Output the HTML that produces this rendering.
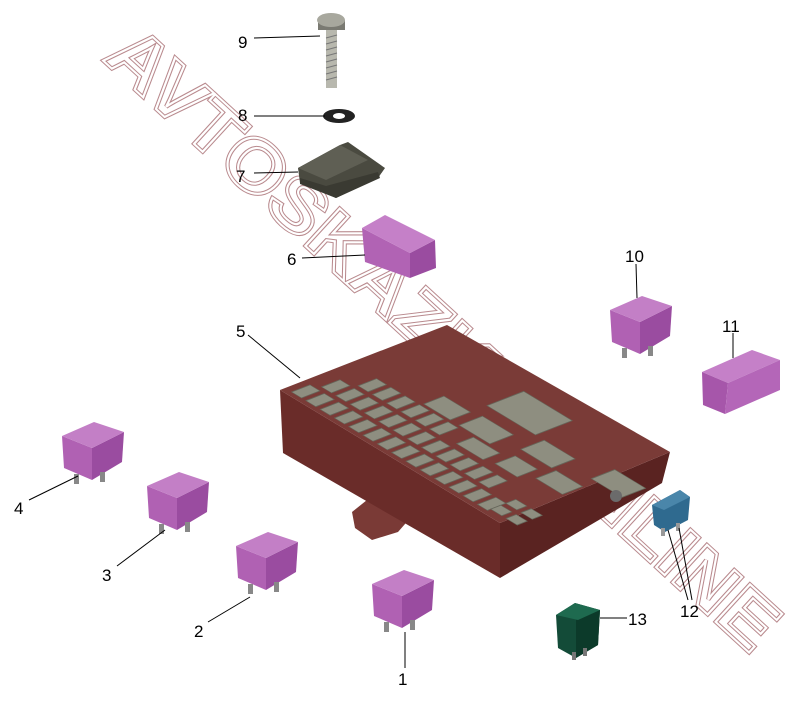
<!DOCTYPE html>
<html><head><meta charset="utf-8"><style>
html,body{margin:0;padding:0;background:#fff;}
svg{display:block;}
text.n{font-family:"Liberation Sans",sans-serif;font-size:17px;fill:#000;}
</style></head><body>
<svg width="797" height="702" viewBox="0 0 797 702" xmlns="http://www.w3.org/2000/svg">
<defs>
<g id="relay">
  <polygon points="2,46 0,14 30,26 30,58" fill="#b061b3"/>
  <polygon points="30,26 62,10 60,40 30,58" fill="#9a4ca0"/>
  <polygon points="0,14 32,0 62,10 30,26" fill="#c37fc6"/>
  <rect x="12" y="52" width="5" height="10" fill="#888"/>
  <rect x="38" y="50" width="5" height="10" fill="#888"/>
</g>
</defs>

<!-- watermark -->
<text x="115" y="45" transform="rotate(42.5 115 45)" dominant-baseline="middle" textLength="881" lengthAdjust="spacingAndGlyphs" font-family="Liberation Sans, sans-serif" font-weight="bold" font-size="74" fill="none" stroke="#b98a8e" stroke-width="4">AVTOSKAZKA.ONLINE</text>
<text x="115" y="45" transform="rotate(42.5 115 45)" dominant-baseline="middle" textLength="881" lengthAdjust="spacingAndGlyphs" font-family="Liberation Sans, sans-serif" font-weight="bold" font-size="74" fill="none" stroke="#fff" stroke-width="2">AVTOSKAZKA.ONLINE</text>

<!-- fuse box -->
<polygon points="352,512 372,496 400,505 412,516 398,532 372,540 355,528" fill="#7a3a36"/>
<polygon points="280,390 500,523 500,578 283,453" fill="#6a2c29"/>
<polygon points="500,523 670,452 662,483 500,578" fill="#5a2321"/>
<polygon points="280,390 447,325 670,452 500,523" fill="#7a3b37"/>
<g transform="matrix(2.2,1.33,1.67,-0.65,280,390)">
  <g fill="#8e8e80" stroke="#66665a" stroke-width="0.4">
    <rect x="3" y="3" width="4.5" height="11"/><rect x="9.5" y="3" width="4.5" height="11"/><rect x="16" y="3" width="4.5" height="11"/><rect x="22.5" y="3" width="4.5" height="11"/><rect x="29" y="3" width="4.5" height="11"/><rect x="35.5" y="3" width="4.5" height="11"/><rect x="42" y="3" width="4.5" height="11"/><rect x="48.5" y="3" width="4.5" height="11"/><rect x="55" y="3" width="4.5" height="11"/><rect x="61.5" y="3" width="4.5" height="11"/><rect x="68" y="3" width="4.5" height="11"/><rect x="74.5" y="3" width="4.5" height="11"/><rect x="81" y="3" width="4.5" height="11"/><rect x="87.5" y="3" width="4.5" height="11"/>
    <rect x="6" y="17" width="4.5" height="11"/><rect x="12.5" y="17" width="4.5" height="11"/><rect x="19" y="17" width="4.5" height="11"/><rect x="25.5" y="17" width="4.5" height="11"/><rect x="32" y="17" width="4.5" height="11"/><rect x="38.5" y="17" width="4.5" height="11"/><rect x="45" y="17" width="4.5" height="11"/><rect x="51.5" y="17" width="4.5" height="11"/><rect x="58" y="17" width="4.5" height="11"/><rect x="64.5" y="17" width="4.5" height="11"/><rect x="71" y="17" width="4.5" height="11"/><rect x="77.5" y="17" width="4.5" height="11"/>
    <rect x="12" y="31" width="4.5" height="11"/><rect x="18.5" y="31" width="4.5" height="11"/><rect x="25" y="31" width="4.5" height="11"/><rect x="31.5" y="31" width="4.5" height="11"/><rect x="38" y="31" width="4.5" height="11"/><rect x="44.5" y="31" width="4.5" height="11"/>
    <rect x="32" y="44" width="12" height="12"/><rect x="48" y="44" width="14" height="14"/>
    <rect x="56" y="32" width="12" height="10"/><rect x="72" y="34" width="10" height="12"/>
    <rect x="92" y="5" width="5" height="6"/><rect x="92" y="14" width="5" height="6"/><rect x="99" y="5" width="5" height="6"/><rect x="99" y="14" width="5" height="6"/>
    <rect x="44" y="66" width="22" height="22"/><rect x="70" y="52" width="14" height="14"/><rect x="86" y="40" width="12" height="12"/><rect x="96" y="60" width="14" height="14"/>
  </g>
</g>
<circle cx="616" cy="496" r="6" fill="#6b6b6b"/>

<!-- relays -->
<use href="#relay" x="62" y="422"/>
<use href="#relay" x="147" y="472"/>
<use href="#relay" x="236" y="532"/>
<use href="#relay" x="372" y="570"/>
<use href="#relay" x="610" y="296"/>

<!-- 6 flat box -->
<polygon points="362,228 410,253 410,278 365,262" fill="#b163b4"/>
<polygon points="410,253 435,240 436,268 410,278" fill="#9a4ca0"/>
<polygon points="362,228 385,215 435,240 410,253" fill="#c580c8"/>
<!-- 11 flat box -->
<polygon points="702,372 752,350 780,360 728,383" fill="#c580c8"/>
<polygon points="702,372 728,383 725,414 703,405" fill="#a656aa"/>
<polygon points="728,383 780,360 780,390 725,414" fill="#b466b8"/>

<!-- 13 green relay -->
<polygon points="556,615 575,603 600,610 598,645 576,658 558,648" fill="#134b38"/>
<polygon points="576,620 600,610 598,645 576,658" fill="#0c3a2a"/>
<polygon points="556,615 575,603 600,610 578,620" fill="#1e6a4f"/>
<rect x="572" y="652" width="4" height="8" fill="#777"/><rect x="583" y="648" width="4" height="8" fill="#777"/>

<!-- 12 blue fuse -->
<polygon points="652,505 680,490 690,497 688,520 665,532 654,525" fill="#2f6a8f"/>
<polygon points="652,505 680,490 690,497 664,510" fill="#4a86aa"/>
<rect x="661" y="528" width="4" height="8" fill="#999"/><rect x="676" y="523" width="4" height="8" fill="#999"/>

<!-- screw 9 -->
<rect x="318" y="20" width="27" height="10" fill="#7a7a72"/>
<ellipse cx="331" cy="20" rx="14" ry="7" fill="#a8a89e"/>
<rect x="326" y="30" width="11" height="58" fill="#b8b8ae"/>
<g stroke="#777" stroke-width="1"><line x1="326" y1="38" x2="337" y2="35"/><line x1="326" y1="44" x2="337" y2="41"/><line x1="326" y1="50" x2="337" y2="47"/><line x1="326" y1="56" x2="337" y2="53"/><line x1="326" y1="62" x2="337" y2="59"/><line x1="326" y1="68" x2="337" y2="65"/><line x1="326" y1="74" x2="337" y2="71"/><line x1="326" y1="80" x2="337" y2="77"/></g>
<!-- washer 8 -->
<ellipse cx="339" cy="116" rx="16" ry="7" fill="#222"/>
<ellipse cx="339" cy="116" rx="6" ry="3" fill="#fff"/>
<!-- clip 7 -->
<polygon points="298,168 340,145 348,142 385,168 378,178 336,198 300,183" fill="#4a4a40"/>
<polygon points="298,168 340,145 368,160 326,180" fill="#5f5f54"/>
<polygon points="300,178 326,186 378,172 380,178 336,198 300,184" fill="#3a3a32"/>

<!-- leader lines -->
<g stroke="#000" stroke-width="1" fill="none">
<line x1="254" y1="38" x2="320" y2="36"/>
<line x1="254" y1="116" x2="325" y2="116"/>
<line x1="254" y1="173" x2="298" y2="172"/>
<line x1="302" y1="258" x2="365" y2="255"/>
<line x1="248" y1="335" x2="300" y2="378"/>
<line x1="636" y1="264" x2="637" y2="298"/>
<line x1="733" y1="333" x2="733" y2="358"/>
<line x1="29" y1="500" x2="78" y2="476"/>
<line x1="117" y1="566" x2="165" y2="530"/>
<line x1="208" y1="622" x2="250" y2="597"/>
<line x1="405" y1="668" x2="405" y2="632"/>
<line x1="627" y1="618" x2="600" y2="618"/>
<line x1="688" y1="600" x2="668" y2="530"/>
<line x1="692" y1="600" x2="679" y2="528"/>
</g>
<text class="n" x="238" y="48">9</text>
<text class="n" x="238" y="121">8</text>
<text class="n" x="236" y="182">7</text>
<text class="n" x="287" y="265">6</text>
<text class="n" x="236" y="337">5</text>
<text class="n" x="625" y="262">10</text>
<text class="n" x="722" y="332">11</text>
<text class="n" x="14" y="514">4</text>
<text class="n" x="102" y="581">3</text>
<text class="n" x="194" y="637">2</text>
<text class="n" x="398" y="685">1</text>
<text class="n" x="628" y="625">13</text>
<text class="n" x="680" y="617">12</text>
</svg>
</body></html>
